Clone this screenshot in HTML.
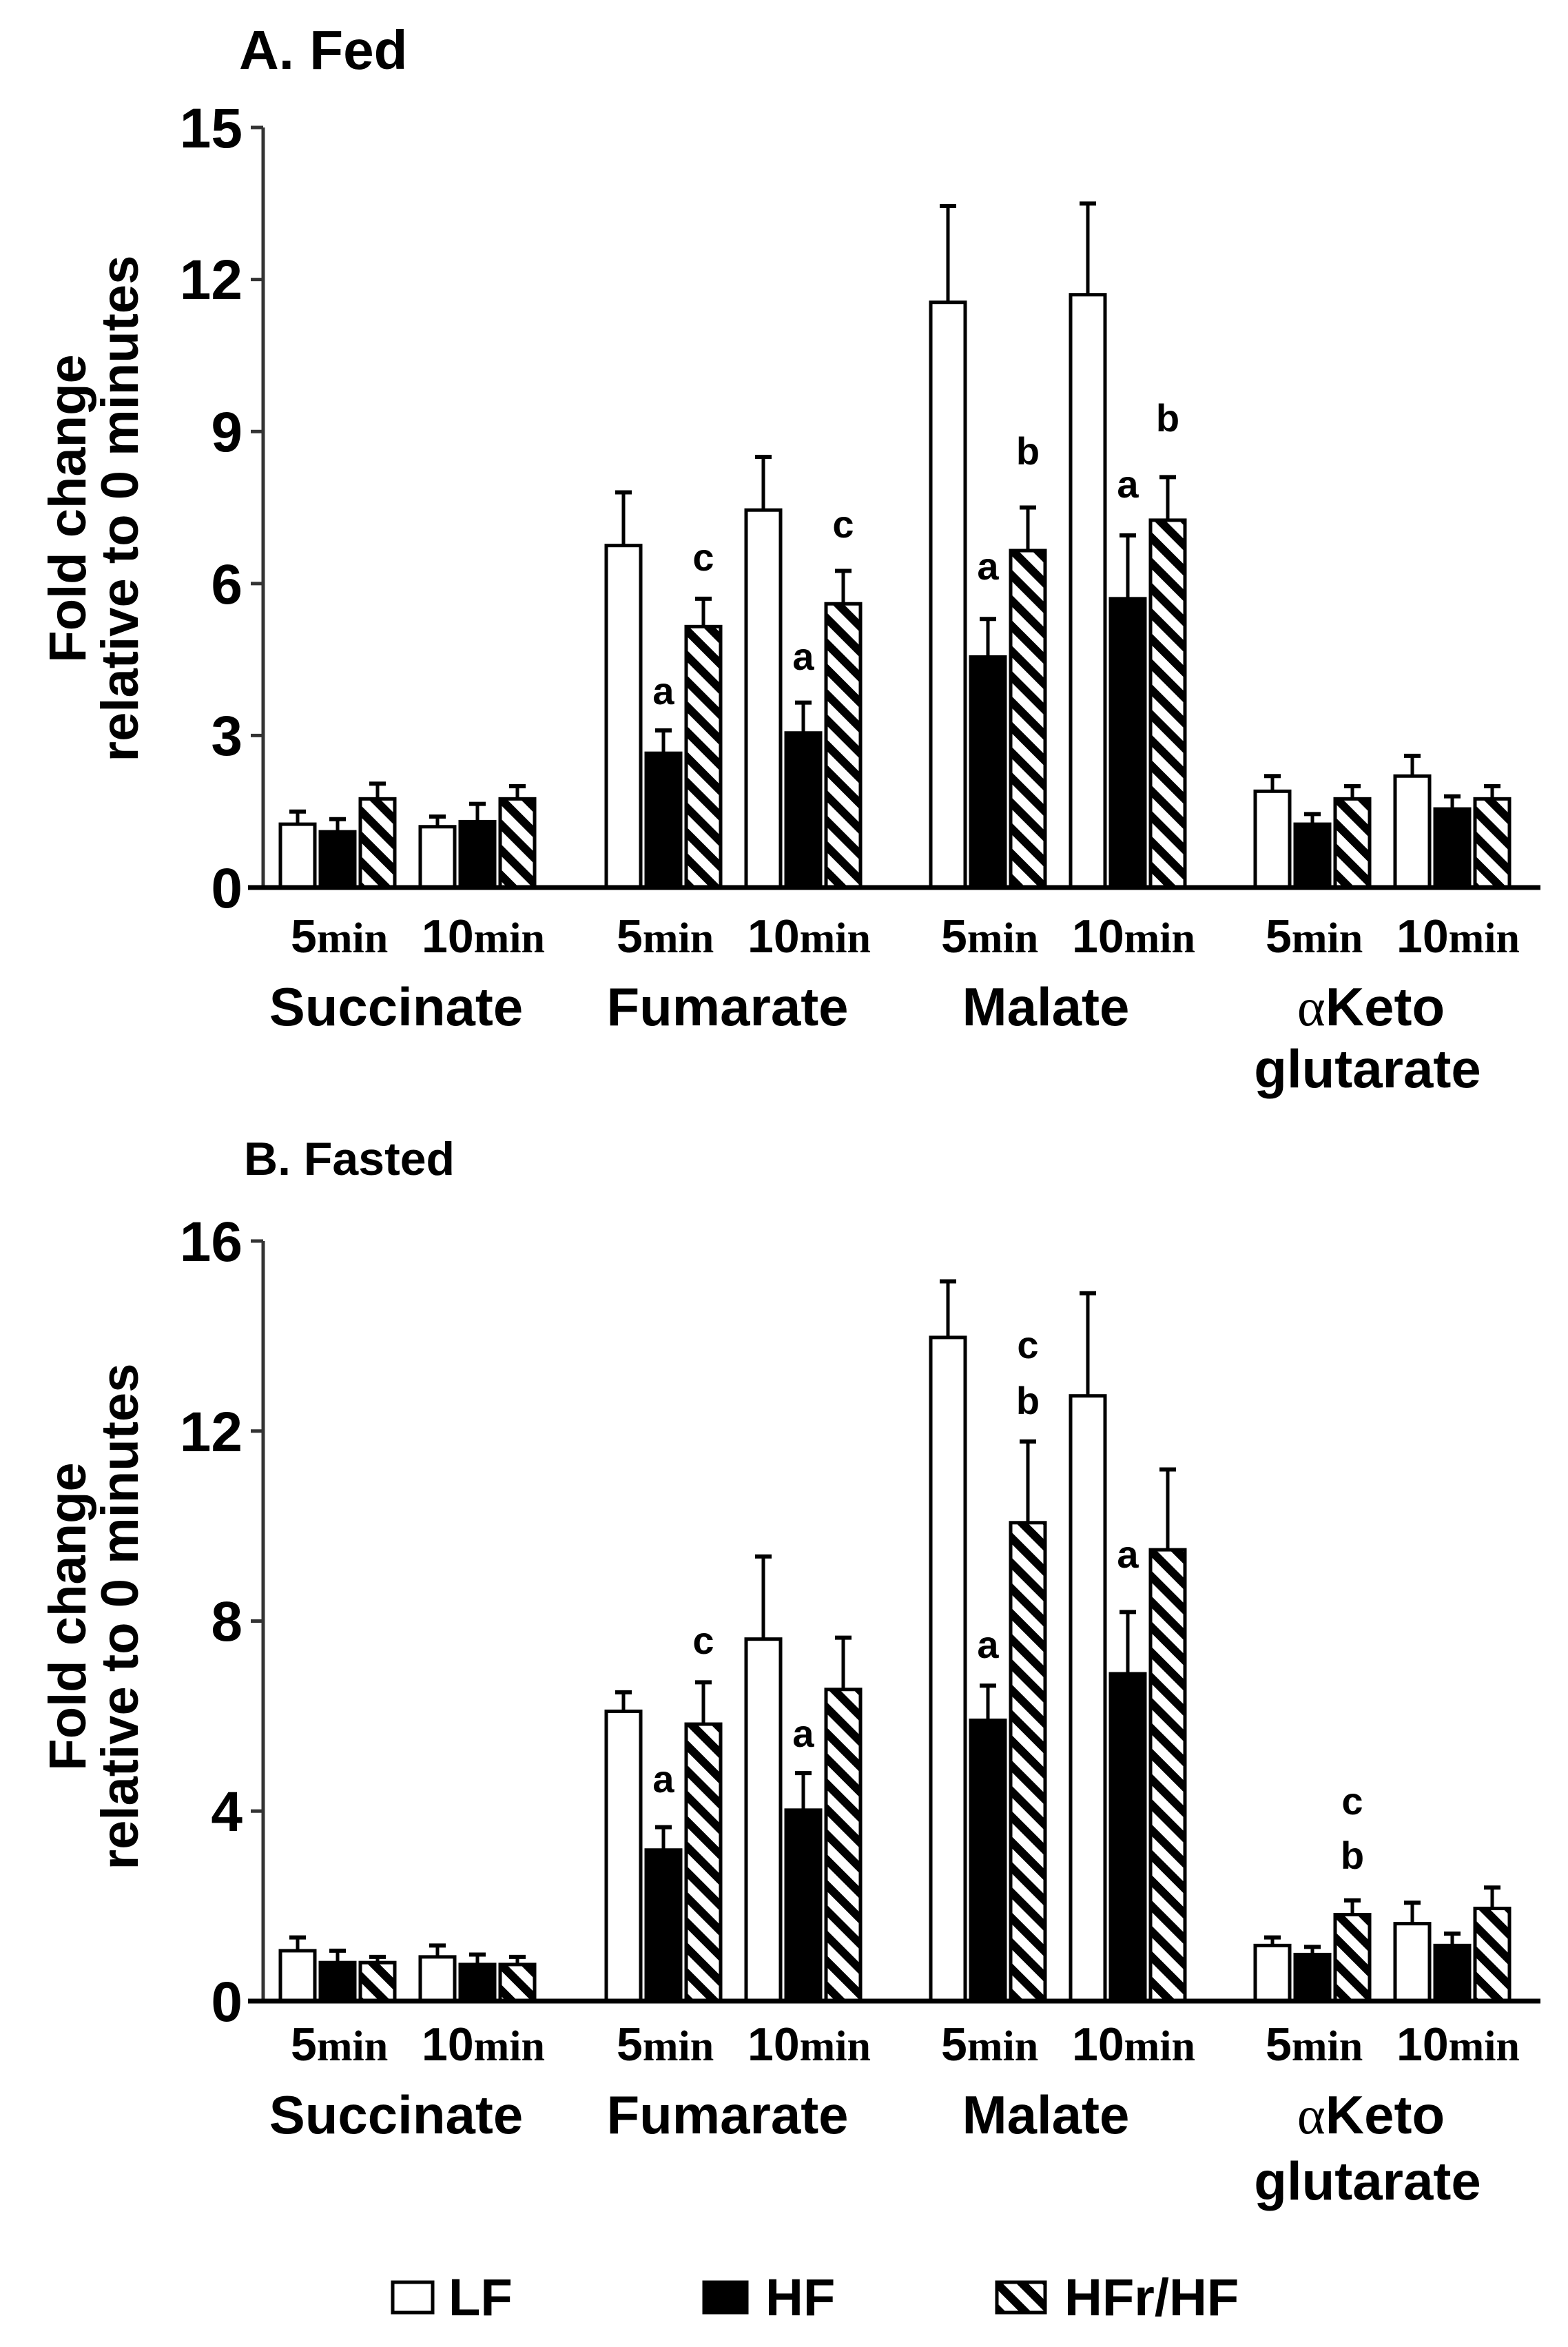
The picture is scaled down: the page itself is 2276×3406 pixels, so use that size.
<!DOCTYPE html>
<html><head><meta charset="utf-8">
<style>
html,body{margin:0;padding:0;background:#fff;}
svg{display:block;}
text{font-family:"Liberation Sans",Arial,sans-serif;font-weight:bold;fill:#000;}
.min{font-family:"Liberation Serif",serif;font-weight:bold;font-size:62px;}
</style></head>
<body>
<svg id="s" width="2276" height="3406" viewBox="0 0 2276 3406" xmlns="http://www.w3.org/2000/svg">
<defs>
<pattern id="h" width="26" height="26" patternUnits="userSpaceOnUse" patternTransform="rotate(-45)">
<rect x="0" y="0" width="26" height="26" fill="#fff"/>
<rect x="0" y="0" width="12" height="26" fill="#000"/>
</pattern>
</defs>
<g id="bars"></g>

<!-- Panel A text -->
<text x="347" y="100" font-size="80">A. Fed</text>
<g font-size="82" text-anchor="end">
<text x="352" y="214">15</text>
<text x="352" y="434">12</text>
<text x="352" y="655">9</text>
<text x="352" y="876">6</text>
<text x="352" y="1096">3</text>
<text x="352" y="1317">0</text>
</g>
<g font-size="76" text-anchor="middle">
<text transform="translate(124,738) rotate(-90)">Fold change</text>
<text transform="translate(200,738) rotate(-90)">relative to 0 minutes</text>
</g>
<g font-size="68">
<text x="422" y="1382">5<tspan class="min">min</tspan></text>
<text x="612" y="1382">10<tspan class="min">min</tspan></text>
<text x="895" y="1382">5<tspan class="min">min</tspan></text>
<text x="1085" y="1382">10<tspan class="min">min</tspan></text>
<text x="1366" y="1382">5<tspan class="min">min</tspan></text>
<text x="1556" y="1382">10<tspan class="min">min</tspan></text>
<text x="1837" y="1382">5<tspan class="min">min</tspan></text>
<text x="2027" y="1382">10<tspan class="min">min</tspan></text>
</g>
<g font-size="78" text-anchor="middle">
<text x="575" y="1488">Succinate</text>
<text x="1056" y="1488">Fumarate</text>
<text x="1518" y="1488">Malate</text>
<text x="1990" y="1488"><tspan font-family="Liberation Serif,serif" font-weight="normal">α</tspan>Keto</text>
<text x="1985" y="1578">glutarate</text>
</g>

<!-- Panel B text -->
<text x="354" y="1705" font-size="68">B. Fasted</text>
<g font-size="82" text-anchor="end">
<text x="352" y="1830">16</text>
<text x="352" y="2106">12</text>
<text x="352" y="2381">8</text>
<text x="352" y="2657">4</text>
<text x="352" y="2933">0</text>
</g>
<g font-size="76" text-anchor="middle">
<text transform="translate(124,2346) rotate(-90)">Fold change</text>
<text transform="translate(200,2346) rotate(-90)">relative to 0 minutes</text>
</g>
<g font-size="68">
<text x="422" y="2990">5<tspan class="min">min</tspan></text>
<text x="612" y="2990">10<tspan class="min">min</tspan></text>
<text x="895" y="2990">5<tspan class="min">min</tspan></text>
<text x="1085" y="2990">10<tspan class="min">min</tspan></text>
<text x="1366" y="2990">5<tspan class="min">min</tspan></text>
<text x="1556" y="2990">10<tspan class="min">min</tspan></text>
<text x="1837" y="2990">5<tspan class="min">min</tspan></text>
<text x="2027" y="2990">10<tspan class="min">min</tspan></text>
</g>
<g font-size="78" text-anchor="middle">
<text x="575" y="3096">Succinate</text>
<text x="1056" y="3096">Fumarate</text>
<text x="1518" y="3096">Malate</text>
<text x="1990" y="3096"><tspan font-family="Liberation Serif,serif" font-weight="normal">α</tspan>Keto</text>
<text x="1985" y="3192">glutarate</text>
</g>

<g font-size="56" text-anchor="middle">
<!-- letters A -->
<text x="963" y="1022">a</text><text x="1021" y="828">c</text>
<text x="1166" y="972">a</text><text x="1224" y="780">c</text>
<text x="1434" y="841">a</text><text x="1492" y="674">b</text>
<text x="1637" y="722">a</text><text x="1695" y="626">b</text>
<!-- letters B -->
<text x="963" y="2601">a</text><text x="1021" y="2400">c</text>
<text x="1166" y="2535">a</text>
<text x="1434" y="2406">a</text><text x="1492" y="2052">b</text><text x="1492" y="1971">c</text>
<text x="1637" y="2275">a</text>
<text x="1963" y="2712">b</text><text x="1963" y="2633">c</text>
</g>

<!-- legend -->
<rect x="570" y="3312" width="58" height="44" fill="#fff" stroke="#000" stroke-width="5"/>
<text x="651" y="3360" font-size="76">LF</text>
<rect x="1022" y="3312" width="62" height="44" fill="#000" stroke="#000" stroke-width="5"/>
<text x="1111" y="3360" font-size="76">HF</text>
<rect x="1447" y="3312" width="70" height="44" fill="url(#h)" stroke="#000" stroke-width="5"/>
<text x="1545" y="3360" font-size="76">HFr/HF</text>
</svg>
<script>
(function(){
var NS="http://www.w3.org/2000/svg";
var g=document.getElementById('bars');
function el(t,a){var e=document.createElementNS(NS,t);for(var k in a)e.setAttribute(k,a[k]);g.appendChild(e);return e;}
var groups=[407,880,1351,1822];
var A=[[[1.25,1.5],[1.1,1.35],[1.75,2.05]],[[1.2,1.4],[1.3,1.65],[1.75,2.0]],
[[6.75,7.8],[2.65,3.1],[5.15,5.7]],[[7.45,8.5],[3.05,3.65],[5.6,6.25]],
[[11.55,13.45],[4.55,5.3],[6.65,7.5]],[[11.7,13.5],[5.7,6.95],[7.25,8.1]],
[[1.9,2.2],[1.25,1.45],[1.75,2.0]],[[2.2,2.6],[1.55,1.8],[1.75,2.0]]];
var B=[[[1.06,1.34],[0.81,1.06],[0.81,0.93]],[[0.93,1.17],[0.77,0.98],[0.77,0.93]],
[[6.1,6.5],[3.18,3.66],[5.83,6.71]],[[7.62,9.36],[4.02,4.8],[6.56,7.65]],
[[13.97,15.15],[5.91,6.64],[10.07,11.78]],[[12.74,14.9],[6.89,8.19],[9.5,11.19]],
[[1.17,1.34],[0.98,1.14],[1.82,2.12]],[[1.63,2.07],[1.17,1.42],[1.95,2.39]]];
var fills=['#fff','#000','url(#h)'];
function panel(data,y0,sc,ticks,tickStep){
 for(var i=0;i<8;i++){
  var gx=groups[i>>1]+(i%2)*203;
  for(var j=0;j<3;j++){
   var x=gx+j*58,v=data[i][j][0],e=data[i][j][1];
   var yt=y0-v*sc,ye=y0-e*sc,cx=x+25;
   el('line',{x1:cx,y1:yt,x2:cx,y2:ye,stroke:'#000','stroke-width':5});
   el('line',{x1:cx-12,y1:ye,x2:cx+12,y2:ye,stroke:'#000','stroke-width':6});
   el('rect',{x:x,y:yt,width:50,height:y0-yt,fill:fills[j],stroke:'#000','stroke-width':5});
  }
 }
 var top=y0-ticks*tickStep*sc;
 el('line',{x1:382,y1:top,x2:382,y2:y0,stroke:'#333','stroke-width':5});
 for(var t=0;t<=ticks;t++){var y=y0-t*tickStep*sc;el('line',{x1:364,y1:y,x2:382,y2:y,stroke:'#333','stroke-width':5});}
 el('line',{x1:360,y1:y0,x2:2236,y2:y0,stroke:'#000','stroke-width':7});
}
panel(A,1288,73.53,5,3);
panel(B,2904,68.94,4,4);
})();
</script>
</body></html>
